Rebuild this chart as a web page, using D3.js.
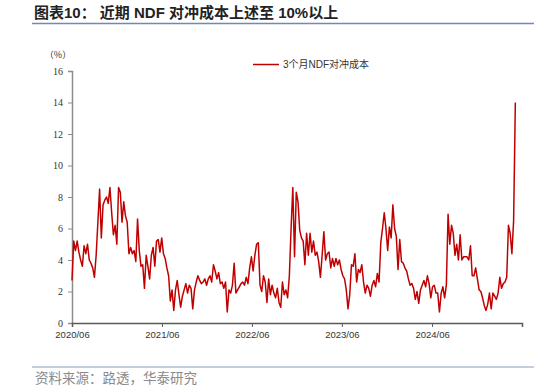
<!DOCTYPE html>
<html>
<head>
<meta charset="utf-8">
<script src="https://cdn.jsdelivr.net/npm/d3@7"></script>
<style>
  body { margin: 0; background: #fff; }
  svg { display: block; }
</style>
</head>
<body>
<div id="chart"></div>
<script>
// Chart data: weekly readings of the 3M NDF hedging cost (%)
var seriesName = "3个月NDF对冲成本";
var startDate = "2020-06-01";
var values = [
  2.7, 5.2, 4.6, 5.2, 4.5, 4.0, 3.6, 4.9, 4.4, 5.0,
  4.0, 3.8, 3.5, 2.9, 4.3, 6.4, 8.5, 5.4, 7.5, 7.8,
  8.0, 7.6, 8.6, 7.0, 5.6, 6.2, 5.0, 8.6, 8.3, 6.4,
  7.7, 6.8, 6.4, 4.4, 4.8, 4.4, 4.6, 3.9, 6.6, 4.6,
  3.6, 3.7, 2.2, 4.3, 3.6, 2.8, 4.3, 4.8, 3.6, 5.2,
  5.3, 4.5, 5.4, 4.4, 4.1, 3.5, 3.0, 1.4, 2.1, 0.8,
  2.1, 2.7, 1.8, 1.0, 1.7, 2.1, 2.5, 1.9, 2.4, 2.2,
  0.9, 2.1, 2.6, 3.0, 2.7, 2.5, 2.6, 2.8, 2.4, 2.8,
  3.0, 2.6, 3.7, 3.3, 2.8, 3.2, 2.5, 2.6, 2.2, 2.6,
  0.7, 2.1, 1.9, 2.4, 3.8, 1.9, 2.1, 2.3, 2.5, 2.6,
  2.4, 2.9, 2.5, 3.5, 4.2, 3.3, 4.3, 5.0, 5.1, 2.4,
  2.0, 3.0, 2.6, 1.3, 2.8, 1.8, 2.4, 1.9, 1.6, 2.2,
  1.3, 1.0, 2.6, 1.8, 2.1, 1.6, 3.0, 6.0, 8.6, 4.2,
  8.3, 7.7, 5.9, 5.4, 5.2, 3.7, 5.7, 4.3, 5.7, 4.5,
  5.2, 4.3, 4.5, 3.9, 2.9, 4.3, 5.8, 4.0, 4.4, 4.5,
  3.5, 4.1, 3.6, 4.1, 3.7, 4.0, 3.4, 3.0, 2.8, 2.1,
  0.9, 1.8, 3.7, 3.6, 4.4, 2.6, 3.4, 3.2, 3.7, 2.6,
  1.9, 2.4, 2.2, 1.7, 2.4, 2.7, 2.3, 3.15, 2.6, 5.1,
  6.0, 7.0, 6.0, 4.6, 6.1, 5.4, 7.5, 6.0, 5.5, 3.4,
  5.3, 3.9, 3.8, 3.5, 3.3, 2.8, 2.4, 2.5, 2.2, 1.5,
  2.0, 1.25, 2.1, 2.4, 2.7, 2.3, 3.0, 2.5, 1.6, 2.3,
  2.4, 1.9, 1.9, 0.7, 1.9, 2.3, 1.6, 2.4, 6.9, 5.0,
  6.2, 5.7, 4.3, 5.0, 4.0, 5.6, 4.0, 4.2, 4.2, 4.2,
  4.0, 4.9, 3.0, 3.0, 3.5, 2.8, 2.1, 2.0, 1.6, 1.1,
  0.8, 1.2, 1.9, 0.9, 1.9, 1.7, 1.5, 1.9, 2.9, 2.2,
  2.5, 2.6, 2.9, 6.2, 5.7, 4.4, 6.5, 14.0
];
var xTickLabels = ["2020/06", "2021/06", "2022/06", "2023/06", "2024/06"];
var yTicks = [0, 2, 4, 6, 8, 10, 12, 14, 16];

var width = 534, height = 392;
var margin = { top: 71, right: 12, bottom: 69, left: 72 };

var parse = d3.timeParse("%Y-%m-%d");
var parseTick = d3.timeParse("%Y/%m");
var t0 = parse(startDate);
var data = values.map(function(v, i) {
  return { date: d3.timeDay.offset(t0, i * 7), value: v };
});

var svg = d3.select("#chart")
  .append("svg")
    .attr("width", width)
    .attr("height", height);

// Title and rule
svg.append("text")
  .attr("x", 34)
  .attr("y", 18)
  .style("font-family", "'Liberation Sans', 'Noto Sans CJK SC', sans-serif")
  .style("font-size", "15px")
  .style("font-weight", "bold")
  .style("fill", "#222")
  .text("图表10：  近期 NDF 对冲成本上述至 10%以上");

svg.append("line")
  .attr("x1", 32).attr("x2", 534)
  .attr("y1", 23.5).attr("y2", 23.5)
  .attr("stroke", "#7189b5")
  .attr("stroke-width", 1.5);

// Scales
var x = d3.scaleTime()
  .domain([parseTick("2020/06"), parseTick("2025/06")])
  .range([margin.left, width - margin.right]);

var y = d3.scaleLinear()
  .domain([0, 16])
  .range([height - margin.bottom, margin.top]);

// Y axis
var yAxis = svg.append("g")
  .attr("transform", "translate(" + margin.left + ",0)")
  .call(d3.axisLeft(y).tickValues(yTicks).tickSize(4).tickPadding(5));
yAxis.select(".domain").attr("stroke", "#8c8c8c").attr("stroke-width", 1.5);
yAxis.selectAll(".tick line").attr("stroke", "#8c8c8c");
yAxis.selectAll("text")
  .style("font-family", "'Liberation Serif', serif")
  .style("font-size", "10px")
  .style("fill", "#333");

svg.append("text")
  .attr("x", 58)
  .attr("y", 58)
  .attr("text-anchor", "middle")
  .style("font-family", "'Noto Sans CJK SC', sans-serif")
  .style("font-size", "9px")
  .style("fill", "#333")
  .text("（%）");

// X axis
var xTickDates = xTickLabels.map(function(s) { return parseTick(s); }).concat([parseTick("2025/06")]);
var xAxis = svg.append("g")
  .attr("transform", "translate(0," + (height - margin.bottom) + ")")
  .call(d3.axisBottom(x)
    .tickValues(xTickDates)
    .tickSize(4)
    .tickPadding(4)
    .tickFormat(function(d, i) { return xTickLabels[i] || ""; }));
xAxis.select(".domain").attr("stroke", "#595959").attr("stroke-width", 1.5);
xAxis.selectAll(".tick line").attr("stroke", "#595959");
xAxis.selectAll("text")
  .style("font-family", "'Liberation Sans', Arial, sans-serif")
  .style("font-size", "9.5px")
  .style("fill", "#333");

// Line
var line = d3.line()
  .x(function(d) { return x(d.date); })
  .y(function(d) { return y(d.value); });

svg.append("path")
  .datum(data)
  .attr("fill", "none")
  .attr("stroke", "#c00000")
  .attr("stroke-width", 1.5)
  .attr("stroke-linejoin", "round")
  .attr("d", line);

// Legend
svg.append("line")
  .attr("x1", 253).attr("x2", 279)
  .attr("y1", 64.5).attr("y2", 64.5)
  .attr("stroke", "#c00000")
  .attr("stroke-width", 1.5);

svg.append("text")
  .attr("x", 283)
  .attr("y", 68)
  .style("font-family", "'Liberation Sans', 'Noto Sans CJK SC', sans-serif")
  .style("font-size", "10px")
  .style("fill", "#333")
  .text(seriesName);

// Source footer
svg.append("line")
  .attr("x1", 32).attr("x2", 534)
  .attr("y1", 367).attr("y2", 367)
  .attr("stroke", "#8a9cbd")
  .attr("stroke-width", 1);

svg.append("text")
  .attr("x", 35)
  .attr("y", 383)
  .style("font-family", "'Noto Sans CJK SC', sans-serif")
  .style("font-size", "13.5px")
  .style("fill", "#8a8a8a")
  .text("资料来源：路透，华泰研究");
</script>
</body>
</html>
